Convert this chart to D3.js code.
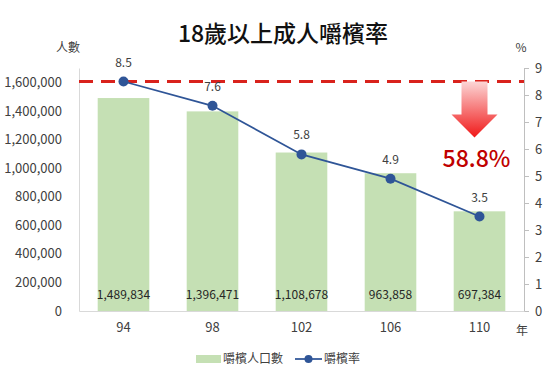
<!DOCTYPE html>
<html lang="zh-Hant">
<head>
<meta charset="UTF-8" />
<style>
    body { margin: 0; background: #fff; }
    svg text { font-family: "Noto Sans CJK TC", "Noto Sans", sans-serif; }
</style>
</head>
<body>
<svg width="550" height="380"></svg>
<script src="https://d3js.org/d3.v7.min.js"></script>
<script>
    var years = ["94", "98", "102", "106", "110"];
    var people = [1489834, 1396471, 1108678, 963858, 697384];
    var rates = [8.5, 7.6, 5.8, 4.9, 3.5];
    var leftTicks = [0, 200000, 400000, 600000, 800000, 1000000, 1200000, 1400000, 1600000];
    var rightTicks = [0, 1, 2, 3, 4, 5, 6, 7, 8, 9];
    var baseRate = 8.5;
    var dropLabel = "58.8%";

    var svg = d3.select("svg");
    var mLeft = 79, mRight = 524, mTop = 68, mBottom = 311;

    var x = d3.scaleBand().domain(years).range([mLeft, mRight]).paddingInner(0.42).paddingOuter(0.21);
    var yL = d3.scaleLinear().domain([0, 1700000]).range([mBottom, mTop]);
    var yR = d3.scaleLinear().domain([0, 9]).range([mBottom, mTop]);
    var fmt = d3.format(",");

    // title
    svg.append("text").attr("x", 283).attr("y", 42).attr("text-anchor", "middle")
        .attr("font-size", 23).attr("font-weight", 500).attr("fill", "#111")
        .text("18歲以上成人嚼檳率");
    svg.append("text").attr("x", 68).attr("y", 52).attr("text-anchor", "middle")
        .attr("font-size", 12).attr("fill", "#404040").text("人數");
    svg.append("text").attr("x", 521).attr("y", 52).attr("text-anchor", "middle")
        .attr("font-size", 12).attr("fill", "#404040").text("%");

    // left axis
    var gl = svg.append("g").attr("transform", "translate(" + mLeft + ",0)")
        .call(d3.axisLeft(yL).tickValues(leftTicks).tickFormat(fmt).tickSize(0).tickPadding(17));
    gl.select(".domain").attr("stroke", "#d9d9d9");
    gl.selectAll("text").attr("font-size", 13).attr("fill", "#404040");

    // right axis
    var gr = svg.append("g").attr("transform", "translate(" + mRight + ",0)")
        .call(d3.axisRight(yR).tickValues(rightTicks).tickSize(5).tickPadding(6));
    gr.selectAll("path,line").attr("stroke", "#bfbfbf");
    gr.selectAll("text").attr("font-size", 13).attr("fill", "#404040");

    // bottom axis
    var gb = svg.append("g").attr("transform", "translate(0," + mBottom + ")")
        .call(d3.axisBottom(x).tickSize(0).tickPadding(12));
    gb.select(".domain").attr("stroke", "#d9d9d9");
    gb.selectAll("text").attr("font-size", 13).attr("fill", "#404040");
    svg.append("text").attr("x", 522).attr("y", 335).attr("text-anchor", "middle")
        .attr("font-size", 12).attr("fill", "#404040").text("年");

    // bars
    svg.selectAll(".bar").data(people).enter().append("rect")
        .attr("x", function (d, i) { return x(years[i]); })
        .attr("y", function (d) { return yL(d); })
        .attr("width", x.bandwidth())
        .attr("height", function (d) { return mBottom - yL(d); })
        .attr("fill", "#c5e0b4");
    svg.selectAll(".blab").data(people).enter().append("text")
        .attr("x", function (d, i) { return x(years[i]) + x.bandwidth() / 2; })
        .attr("y", 299).attr("text-anchor", "middle")
        .attr("font-size", 12).attr("fill", "#262626")
        .text(function (d) { return fmt(d); });

    // dashed reference line
    svg.append("line").attr("x1", mLeft).attr("x2", mRight)
        .attr("y1", yR(baseRate)).attr("y2", yR(baseRate))
        .attr("stroke", "#d9221c").attr("stroke-width", 3).attr("stroke-dasharray", "14,8");

    // arrow
    var defs = svg.append("defs");
    var grad = defs.append("linearGradient").attr("id", "ag").attr("x1", 0).attr("y1", 0).attr("x2", 0).attr("y2", 1);
    grad.append("stop").attr("offset", "0%").attr("stop-color", "#fcd6d6");
    grad.append("stop").attr("offset", "100%").attr("stop-color", "#f01818");
    var ax = x("110") + x.bandwidth() / 2 - 5, ay = yR(baseRate);
    svg.append("path")
        .attr("d", "M" + (ax - 13) + "," + ay + "H" + (ax + 13) + "V" + (ay + 33) + "H" + (ax + 23) +
            "L" + ax + "," + (ay + 56) + "L" + (ax - 23) + "," + (ay + 33) + "H" + (ax - 13) + "Z")
        .attr("fill", "url(#ag)");
    svg.append("text").attr("x", ax + 2).attr("y", 167).attr("text-anchor", "middle")
        .attr("font-size", 23).attr("font-weight", 500).attr("fill", "#c00000").text(dropLabel);

    // rate line
    var line = d3.line().x(function (d, i) { return x(years[i]) + x.bandwidth() / 2; }).y(function (d) { return yR(d); });
    svg.append("path").datum(rates).attr("d", line).attr("fill", "none")
        .attr("stroke", "#2f5597").attr("stroke-width", 1.75);
    svg.selectAll(".dot").data(rates).enter().append("circle")
        .attr("cx", function (d, i) { return x(years[i]) + x.bandwidth() / 2; })
        .attr("cy", function (d) { return yR(d); })
        .attr("r", 5).attr("fill", "#2f5597");
    svg.selectAll(".rlab").data(rates).enter().append("text")
        .attr("x", function (d, i) { return x(years[i]) + x.bandwidth() / 2; })
        .attr("y", function (d) { return yR(d) - 15; })
        .attr("text-anchor", "middle").attr("font-size", 12).attr("fill", "#404040")
        .text(function (d) { return d.toFixed(1); });

    // legend
    var lg = svg.append("g").attr("transform", "translate(196,359)");
    lg.append("rect").attr("x", 0).attr("y", -4).attr("width", 25).attr("height", 8).attr("fill", "#c5e0b4");
    lg.append("text").attr("x", 27).attr("y", 4).attr("font-size", 12).attr("fill", "#404040").text("嚼檳人口數");
    lg.append("line").attr("x1", 99).attr("x2", 126).attr("y1", 0).attr("y2", 0).attr("stroke", "#2f5597").attr("stroke-width", 1.75);
    lg.append("circle").attr("cx", 112.5).attr("cy", 0).attr("r", 4).attr("fill", "#2f5597");
    lg.append("text").attr("x", 128).attr("y", 4).attr("font-size", 12).attr("fill", "#404040").text("嚼檳率");
</script>
</body>
</html>
